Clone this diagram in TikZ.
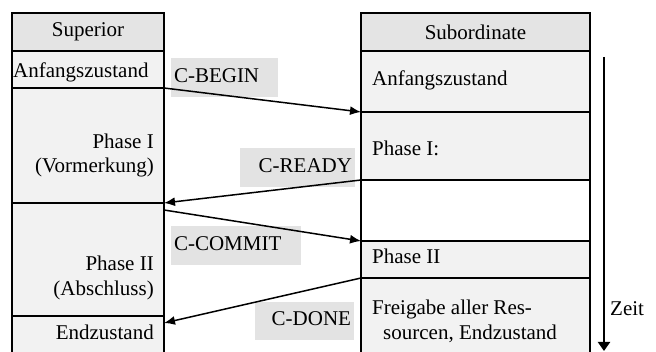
\documentclass[tikz,border=0pt]{standalone}
\usepackage{fontspec}
\setmainfont{Liberation Serif}
\usetikzlibrary{arrows.meta}
\definecolor{headgray}{HTML}{E4E4E4}
\definecolor{rowgray}{HTML}{F2F2F2}
\definecolor{labgray}{HTML}{E3E3E3}
\begin{document}
\begin{tikzpicture}[x=1pt,y=-1pt,
  txt/.style={font=\fontsize{21}{25}\selectfont, inner sep=0pt},
  cell/.style={draw=black, line width=2pt, anchor=north west, inner sep=0pt, outer sep=0pt},
  lab/.style={fill=labgray, inner xsep=3pt, inner ysep=0pt, font=\fontsize{21}{25}\selectfont},
  msg/.style={line width=1.5pt, -{Latex[length=11pt,width=9pt]}}
]
\useasboundingbox (0,0) rectangle (656,352);
% left column
\node[cell, fill=headgray, minimum width=152, minimum height=38] (sh) at (12,13) {};
\node[cell, fill=rowgray, minimum width=152, minimum height=37] (s1) at (12,51) {};
\node[cell, fill=rowgray, minimum width=152, minimum height=115] (s2) at (12,88) {};
\node[cell, fill=rowgray, minimum width=152, minimum height=113] (s3) at (12,203) {};
\node[cell, fill=rowgray, minimum width=152, minimum height=50] (s4) at (12,316) {};
% right column
\node[cell, fill=headgray, minimum width=229, minimum height=38] (rh) at (361,13) {};
\node[cell, fill=rowgray, minimum width=229, minimum height=61] (r1) at (361,51) {};
\node[cell, fill=rowgray, minimum width=229, minimum height=68] (r2) at (361,112) {};
\node[cell, fill=white, minimum width=229, minimum height=61] (r3) at (361,180) {};
\node[cell, fill=rowgray, minimum width=229, minimum height=37] (r4) at (361,241) {};
\node[cell, fill=rowgray, minimum width=229, minimum height=90] (r5) at (361,278) {};
% texts left
\node[txt] (tsh) at (sh.center) {Superior};
\node[txt, anchor=base west] (ts1) at (13,78) {Anfangszustand};
\node[txt, anchor=base east] (ts2a) at (154,149) {Phase I};
\node[txt, anchor=base east] (ts2b) at (154,173) {(Vormerkung)};
\node[txt, anchor=base east] (ts3a) at (154,271) {Phase II};
\node[txt, anchor=base east] (ts3b) at (154,296) {(Abschluss)};
\node[txt, anchor=base east] (ts4) at (154,340) {Endzustand};
% texts right
\node[txt] (trh) at (rh.center) {Subordinate};
\node[txt, anchor=base west] (tr1) at (372,86) {Anfangszustand};
\node[txt, anchor=base west] (tr2) at (372,156) {Phase I:};
\node[txt, anchor=base west] (tr4) at (372,264) {Phase II};
\node[txt, anchor=base west] (tr5a) at (372,315) {Freigabe aller Res-};
\node[txt, anchor=base west] (tr5b) at (383,340) {sourcen, Endzustand};
% labels
\node[lab, minimum width=107, minimum height=39, text width=101pt, align=left] (lbegin) at (224.5,77.5) {\strut C-BEGIN};
\node[lab, minimum width=115, minimum height=39, text width=109pt, align=right] (lready) at (297.5,167.5) {\strut C-READY};
\node[lab, minimum width=130, minimum height=39, text width=124pt, align=left] (lcommit) at (236,245.5) {\strut C-COMMIT};
\node[lab, minimum width=99, minimum height=38, text width=93pt, align=right] (ldone) at (304.5,321) {\strut C-DONE};
% messages
\draw[msg] (s1.south east) -- (r1.south west);
\draw[msg] (r2.south west) -- (s2.south east);
\draw[msg] ([yshift=-7pt]s3.north east) -- (r3.south west);
\draw[msg] (r4.south west) -- ([yshift=-7pt]s4.north east);
% time axis
\coordinate (ttop) at (604,57);
\coordinate (tbot) at (604,351);
\draw[line width=2pt, -{Triangle[length=9pt,width=12pt]}] (ttop) -- (tbot);
\node[txt, anchor=base west] (tzeit) at (610,316) {Zeit};
\end{tikzpicture}
\end{document}
